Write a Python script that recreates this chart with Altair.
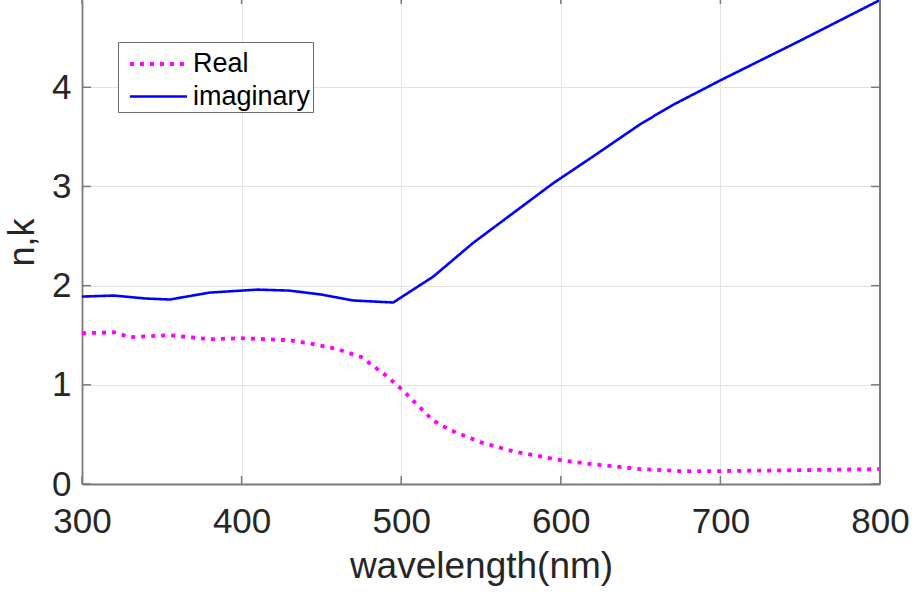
import altair as alt
import pandas as pd

# ---- data ----
wl_real = [300, 320, 330, 355, 380, 400, 430, 445, 460, 475, 490, 500, 510, 520,
           530, 550, 570, 600, 620, 650, 675, 700, 750, 800]
n_real = [1.52, 1.53, 1.48, 1.50, 1.46, 1.47, 1.45, 1.41, 1.36, 1.28, 1.10, 0.96,
          0.80, 0.64, 0.55, 0.42, 0.33, 0.24, 0.20, 0.15, 0.13, 0.13, 0.14, 0.15]
wl_imag = [300, 320, 340, 355, 380, 410, 430, 450, 470, 495, 520, 545, 570, 595,
           620, 650, 670, 700, 750, 800]
k_imag = [1.89, 1.90, 1.87, 1.86, 1.93, 1.96, 1.95, 1.91, 1.85, 1.83, 2.09, 2.43,
          2.73, 3.03, 3.30, 3.63, 3.82, 4.07, 4.47, 4.88]
series_names = ["Real", "imaginary"]
x_ticks = [300, 400, 500, 600, 700, 800]
y_ticks = [0, 1, 2, 3, 4]

W, H = 798, 484
FONT = "Liberation Sans"

df = pd.concat([
    pd.DataFrame({"wl": wl_real, "v": n_real, "s": series_names[0]}),
    pd.DataFrame({"wl": wl_imag, "v": k_imag, "s": series_names[1]}),
])

xs = alt.Scale(domain=[300, 800], nice=False, zero=False)
ys = alt.Scale(domain=[0, 4.88], nice=False, zero=False)

base_x = alt.X("wl:Q", scale=xs, title="wavelength(nm)",
               axis=alt.Axis(values=x_ticks, format="d", labelFlush=False))
base_y = alt.Y("v:Q", scale=ys, title="n,k",
               axis=alt.Axis(values=y_ticks, format="d", labelFlush=False))

legend_kw = dict(title=None, orient="none", legendX=36, legendY=42,
                 padding=2, symbolSize=1296,
                 symbolType="M -0.56 0 L 2.61 0",
                 symbolStrokeWidth=3.4, labelOffset=33,
                 labelFontSize=27, labelFont=FONT, labelColor="#000000",
                 fillColor="white", strokeColor="#6a6a6a",
                 rowPadding=0, labelLimit=300)

lines = alt.Chart(df).mark_line(strokeCap="butt", clip=True).encode(
    x=base_x,
    y=base_y,
    color=alt.Color("s:N", scale=alt.Scale(domain=series_names, range=["#ff00ff", "#0000ff"]),
                    legend=alt.Legend(**legend_kw)),
    strokeDash=alt.StrokeDash("s:N", scale=alt.Scale(domain=series_names, range=[[4, 6], [1, 0]]),
                              legend=alt.Legend(**legend_kw)),
    strokeWidth=alt.StrokeWidth("s:N", scale=alt.Scale(domain=series_names, range=[3.8, 2.6]),
                                legend=None),
    order=alt.Order("wl:Q"),
)

tick_color = "#7a7a7a"
xt = pd.DataFrame({"wl": x_ticks})
yt = pd.DataFrame({"v": y_ticks})

x_ticks_bottom = alt.Chart(xt).mark_rule(color=tick_color, strokeWidth=1.5).encode(
    x=alt.X("wl:Q", scale=xs), y=alt.value(H), y2=alt.value(H - 8))
x_ticks_top = alt.Chart(xt).mark_rule(color=tick_color, strokeWidth=1.5).encode(
    x=alt.X("wl:Q", scale=xs), y=alt.value(0), y2=alt.value(4))
y_ticks_left = alt.Chart(yt).mark_rule(color=tick_color, strokeWidth=1.5).encode(
    y=alt.Y("v:Q", scale=ys), x=alt.value(0), x2=alt.value(9))
y_ticks_right = alt.Chart(yt).mark_rule(color=tick_color, strokeWidth=1.5).encode(
    y=alt.Y("v:Q", scale=ys), x=alt.value(W), x2=alt.value(W - 9))
right_border = alt.Chart(yt).mark_rule(color=tick_color, strokeWidth=1.8).encode(
    x=alt.value(W), y=alt.value(0), y2=alt.value(H))

chart = alt.layer(
    lines, x_ticks_bottom, x_ticks_top, y_ticks_left, y_ticks_right, right_border
).properties(
    width=W, height=H,
    autosize=alt.AutoSizeParams(type="none"),
    padding={"left": 82, "top": 0, "right": 36, "bottom": 112},
    background="white",
).configure_view(
    stroke=None
).configure_axis(
    labelFont=FONT, titleFont=FONT,
    labelFontSize=35, titleFontSize=36,
    labelColor="#262626", titleColor="#262626",
    titleFontWeight="normal",
    domainColor=tick_color, domainWidth=1.8,
    gridColor="#e3e3e3", gridWidth=1,
    ticks=False,
).configure_axisX(
    labelPadding=20, titlePadding=9, titleFontSize=37,
).configure_axisY(
    labelPadding=11, titlePadding=10,
)

chart.save("out.html", embed_options={"renderer": "svg", "actions": False})
